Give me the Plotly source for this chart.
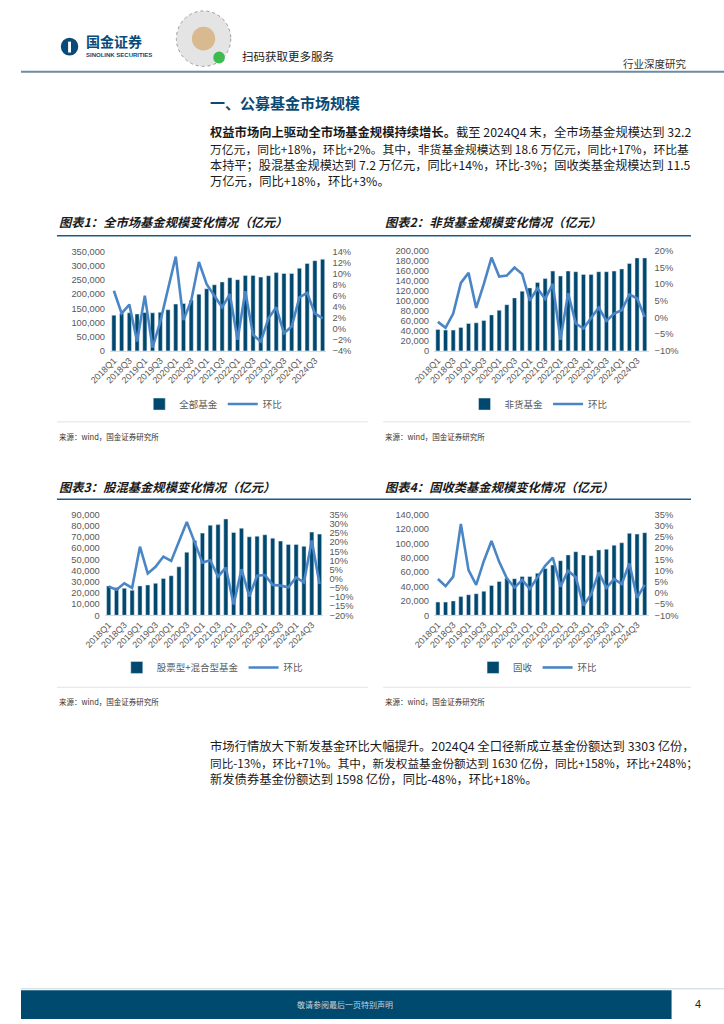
import plotly.graph_objects as go

W, H = 724, 1024


def fx(x):
    return x / W


def fy(y):
    return 1 - y / H


# ---------------- data ----------------
quarters = ["2018Q1", "2018Q2", "2018Q3", "2018Q4", "2019Q1", "2019Q2", "2019Q3", "2019Q4",
            "2020Q1", "2020Q2", "2020Q3", "2020Q4", "2021Q1", "2021Q2", "2021Q3", "2021Q4",
            "2022Q1", "2022Q2", "2022Q3", "2022Q4", "2023Q1", "2023Q2", "2023Q3", "2023Q4",
            "2024Q1", "2024Q2", "2024Q3", "2024Q4"]
tick_labels = ["2018Q1", "2018Q3", "2019Q1", "2019Q3", "2020Q1", "2020Q3", "2021Q1",
               "2021Q3", "2022Q1", "2022Q3", "2023Q1", "2023Q3", "2024Q1", "2024Q3"]

all_fund = [126000, 132000, 134000, 130000, 135000, 134000, 136000, 145000, 165000, 167000,
            179000, 200000, 219000, 233000, 243000, 258000, 251000, 266000, 266000, 260000,
            265000, 276000, 273000, 273000, 291000, 308000, 318000, 323000]
all_qoq = [6.9, 2.8, 4.4, -2.3, 6.0, -3.4, 1.3, 7.0, 13.1, 1.6, 5.1, 12.1, 8.1, 6.0, 3.9, 6.3,
           -2.0, 6.8, -1.1, -2.3, 1.9, 3.9, -0.8, 0.4, 5.7, 6.5, 2.8, 1.9]

nonmm_fund = [43000, 41600, 41600, 47000, 54800, 56100, 60700, 72000, 81200, 92400, 106000,
              119500, 126000, 137000, 144600, 159700, 149800, 159700, 158400, 153000, 153000,
              158400, 158400, 159700, 164000, 175000, 186000, 186000]
nonmm_qoq = [-1.3, -3.1, 1.2, 10.4, 13.4, 2.9, 10.1, 18.0, 12.3, 12.6, 15.0, 13.1, 5.1, 8.8, 5.6,
             10.1, -6.7, 7.3, -1.8, -3.3, -0.1, 3.0, -1.0, 1.2, 2.2, 6.9, 5.8, 0.2]

equity_fund = [26300, 24800, 24200, 22400, 26300, 27100, 28600, 33000, 35400, 43400, 56400,
               67000, 73500, 80600, 81100, 86200, 74100, 77900, 70200, 70800, 72000, 69000,
               66400, 63400, 63400, 61700, 74400, 72600]
equity_qoq = [-4.3, -6.1, -2.5, -5.0, 17.5, 2.9, 6.5, 12.1, 9.7, 20.4, 31.0, 20.0, 8.8, 10.1, 1.1,
              6.1, -14.1, 5.2, -9.7, 1.6, 2.0, -3.4, -3.8, -4.7, 0.7, -2.0, 20.9, -2.9]

fixed_fund = [18400, 18400, 20000, 26000, 28500, 30000, 33500, 41500, 47000, 51500, 51000,
              54000, 54000, 58500, 65000, 70000, 76000, 84000, 88500, 84000, 83000, 91000,
              92000, 97500, 101000, 114000, 113000, 115000]
fixed_qoq = [6.2, 3.0, 7.3, 30.9, 10.2, 3.6, 14.3, 23.2, 13.9, 6.5, 2.4, 5.8, 1.8, 7.0, 12.1,
             15.8, 2.8, 9.9, 7.0, -5.6, -0.7, 9.2, 2.2, 6.2, 4.0, 13.2, -2.2, 3.6]

bar_names = ["全部基金", "非货基金", "股票型+混合型基金", "固收"]
line_name = "环比"
chart_titles = ["图表1：全市场基金规模变化情况（亿元）", "图表2：非货基金规模变化情况（亿元）",
                "图表3：股混基金规模变化情况（亿元）", "图表4：固收类基金规模变化情况（亿元）"]
source_text = "来源：wind，国金证券研究所"

para1 = [
    "<b>权益市场向上驱动全市场基金规模持续增长。</b>截至 2024Q4 末，全市场基金规模达到 32.2",
    "万亿元，同比+18%，环比+2%。其中，非货基金规模达到 18.6 万亿元，同比+17%，环比基",
    "本持平；股混基金规模达到 7.2 万亿元，同比+14%，环比-3%；固收类基金规模达到 11.5",
    "万亿元，同比+18%，环比+3%。",
]
para1_sizes = [12.3, 11.8, 12.2, 12.3]
para2 = [
    "市场行情放大下新发基金环比大幅提升。2024Q4 全口径新成立基金份额达到 3303 亿份，",
    "同比-13%，环比+71%。其中，新发权益基金份额达到 1630 亿份，同比+158%，环比+248%；",
    "新发债券基金份额达到 1598 亿份，同比-48%，环比+18%。",
]
para2_sizes = [12.3, 11.65, 12.3]

# ---------------- style ----------------
BAR = "#00486E"
LINE = "#4A86C6"
TICK = "#595959"
NUMFONT = "Liberation Sans, Arial, sans-serif"
CJK = "Noto Sans CJK SC, sans-serif"

charts = [
    dict(bars=all_fund, qoq=all_qoq, lmax=350000, ldt=50000, rr=[-4, 14], rdt=2,
         xd=(91.7, 314.6), yd=(349.3, 249.0), leg=(198, 403)),
    dict(bars=nonmm_fund, qoq=nonmm_qoq, lmax=200000, ldt=20000, rr=[-10, 20], rdt=5,
         xd=(425.4, 646.3), yd=(349.3, 248.3), leg=(533, 403)),
    dict(bars=equity_fund, qoq=equity_qoq, lmax=90000, ldt=10000, rr=[-20, 35], rdt=5,
         xd=(86.3, 311.5), yd=(616.3, 514.7), leg=(197, 669)),
    dict(bars=fixed_fund, qoq=fixed_qoq, lmax=140000, ldt=20000, rr=[-10, 35], rdt=5,
         xd=(425.4, 646.3), yd=(616.3, 514.7), leg=(532, 669)),
]

fig = go.Figure()
layout = dict(
    width=W, height=H, autosize=False,
    margin=dict(l=0, r=0, t=0, b=0),
    paper_bgcolor="white", plot_bgcolor="rgba(0,0,0,0)",
    font=dict(family=CJK, color="#222222"),
    bargap=0.46, showlegend=True,
)

for i, c in enumerate(charts):
    k = i + 1
    xname = "x" if k == 1 else f"x{k}"
    yl = 2 * k - 1
    yr = 2 * k
    ylname = "y" if yl == 1 else f"y{yl}"
    yrname = f"y{yr}"
    legname = "legend" if k == 1 else f"legend{k}"

    fig.add_trace(go.Bar(x=quarters, y=c["bars"], name=bar_names[i], marker_color=BAR,
                         xaxis=xname, yaxis=ylname, legend=legname))
    fig.add_trace(go.Scatter(x=quarters, y=c["qoq"], name=line_name, mode="lines",
                             line=dict(color=LINE, width=2.6), xaxis=xname, yaxis=yrname,
                             legend=legname))

    xkey = "xaxis" if k == 1 else f"xaxis{k}"
    ylkey = "yaxis" if yl == 1 else f"yaxis{yl}"
    yrkey = f"yaxis{yr}"
    layout[xkey] = dict(domain=[fx(c["xd"][0]), fx(c["xd"][1])], anchor=ylname,
                        type="category", tickmode="array", tickvals=tick_labels,
                        ticktext=tick_labels, tickangle=-45,
                        tickfont=dict(family=NUMFONT, size=9, color=TICK),
                        showline=True, linecolor="#D9D9D9", linewidth=1,
                        ticks="", showgrid=False, zeroline=False, fixedrange=True)
    layout[ylkey] = dict(domain=[fy(c["yd"][0]), fy(c["yd"][1])], anchor=xname,
                         range=[0, c["lmax"]], dtick=c["ldt"], tick0=0, tickformat=",",
                         tickfont=dict(family=NUMFONT, size=9.3, color=TICK),
                         showgrid=False, zeroline=False, showline=False, ticks="",
                         ticklabelstandoff=4, fixedrange=True)
    layout[yrkey] = dict(overlaying=ylname, anchor=xname, side="right",
                         range=c["rr"], dtick=c["rdt"], tick0=0, ticksuffix="%",
                         tickfont=dict(family=NUMFONT, size=9.3, color=TICK),
                         showgrid=False, zeroline=False, showline=False, ticks="",
                         ticklabelstandoff=5, fixedrange=True)
    layout[legname] = dict(orientation="h", x=fx(c["leg"][0]), y=fy(c["leg"][1]),
                           xanchor="center", yanchor="middle",
                           font=dict(family=CJK, size=9.5, color=TICK),
                           bgcolor="rgba(0,0,0,0)", itemwidth=30, tracegroupgap=0,
                           traceorder="normal")

shapes = []
annotations = []


def hline(x0, x1, y, color, width):
    shapes.append(dict(type="line", xref="paper", yref="paper", x0=fx(x0), x1=fx(x1),
                       y0=fy(y), y1=fy(y), line=dict(color=color, width=width)))


def text(x, y, s, size, color="#222222", anchor="left", family=CJK):
    annotations.append(dict(xref="paper", yref="paper", x=fx(x), y=fy(y), text=s,
                            showarrow=False, xanchor=anchor, yanchor="middle",
                            font=dict(size=size, color=color, family=family)))


# header
shapes.append(dict(type="circle", xref="paper", yref="paper", x0=fx(41), x1=fx(59),
                   y0=fy(51), y1=fy(33), fillcolor="#0A4A78", line=dict(width=0)))
shapes.append(dict(type="rect", xref="paper", yref="paper", x0=fx(48.5), x1=fx(51.5),
                   y0=fy(48), y1=fy(37), fillcolor="white", line=dict(width=0)))
text(65, 36, "<b>国金证券</b>", 14, "#0A4A78")
text(65, 50.5, "<b>SINOLINK SECURITIES</b>", 6, "#0A4A78", family="Liberation Sans, Arial")
# mini program code (decorative)
shapes.append(dict(type="circle", xref="paper", yref="paper", x0=fx(160), x1=fx(216),
                   y0=fy(62), y1=fy(6), fillcolor="#E4E4E4",
                   line=dict(color="#9A9A9A", width=1, dash="dot")))
shapes.append(dict(type="circle", xref="paper", yref="paper", x0=fx(176), x1=fx(200),
                   y0=fy(46), y1=fy(22), fillcolor="#D9B98F", line=dict(width=0)))
shapes.append(dict(type="circle", xref="paper", yref="paper", x0=fx(198), x1=fx(210),
                   y0=fy(59), y1=fy(47), fillcolor="#3DBB4E", line=dict(width=0)))
text(226, 52, "扫码获取更多服务", 11.5, "#222222")
text(688, 59, "行业深度研究", 10.5, "#333333", anchor="right")
hline(0, 724, 67.5, "#6D8BA3", 2)

# section heading + paragraph 1
text(193, 98, "<b>一、公募基金市场规模</b>", 15, "#0B4A75")
for j, (line, sz) in enumerate(zip(para1, para1_sizes)):
    text(193, 128 + j * 16.7, line, sz, "#1A1A1A")

# chart titles / rules / sources
title_pos = [(37, 219), (373, 219), (37, 487), (373, 487)]
for (tx, ty), t in zip(title_pos, chart_titles):
    text(tx, ty, f"<b><i>{t}</i></b>", 12.3, "#1A1A1A")
hline(37, 690, 233, "#1F5A82", 1.5)
hline(37, 690, 499, "#1F5A82", 1.5)
for (x0, x1) in [(37, 357), (373, 690)]:
    hline(x0, x1, 421, "#E3E3E3", 1)
    hline(x0, x1, 689, "#E3E3E3", 1)
for (tx, ty) in [(37, 436), (373, 436), (37, 703), (373, 703)]:
    text(tx, ty, source_text, 7.5, "#333333")

# paragraph 2
for j, (line, sz) in enumerate(zip(para2, para2_sizes)):
    text(193, 748 + j * 17, line, sz, "#1A1A1A")

# footer
hline(0, 724, 993.5, "#C9D4DD", 1)
shapes.append(dict(type="rect", xref="paper", yref="paper", x0=0, x1=fx(670),
                   y0=0, y1=fy(995), fillcolor="#004A70", line=dict(width=0)))
text(334, 1009, "敬请参阅最后一页特别声明", 8, "#C8D2DA", anchor="center")
text(697, 1009, "4", 11, "#222222", anchor="center", family="Liberation Sans, Arial")

layout["shapes"] = shapes
layout["annotations"] = annotations
fig.update_layout(**layout)

fig.write_html("out.html", config={"displayModeBar": False, "staticPlot": True},
               post_script="document.body.style.margin='0';document.body.style.overflow='hidden';")
